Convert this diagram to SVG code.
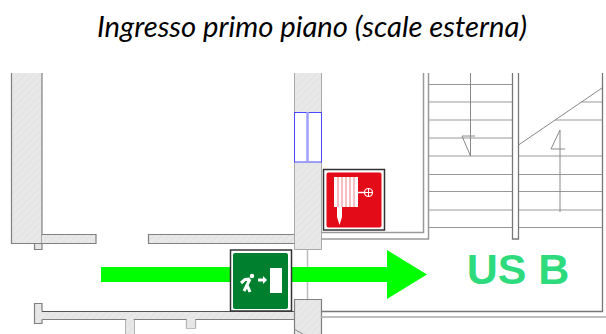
<svg xmlns="http://www.w3.org/2000/svg" width="606" height="334" viewBox="0 0 606 334">
<defs>
<pattern id="hatch" width="5" height="5" patternUnits="userSpaceOnUse" patternTransform="rotate(-45)">
<rect width="5" height="5" fill="#e8e8e8"/>
<rect width="5" height="1.500" fill="#e3e3e3"/>
</pattern>
</defs>
<style>
.title{font-family:Lato,"Liberation Sans",sans-serif;font-style:italic;font-size:28px;fill:#000}
.wall{fill:url(#hatch);stroke:none}
.edge{fill:none;stroke:#808080;stroke-width:1.200}
.line{fill:none;stroke:#777;stroke-width:1.300}
.tread{fill:none;stroke:#999;stroke-width:1.100}
.thin{fill:none;stroke:#888;stroke-width:1}
.win{fill:#fff;stroke:#4a4aff;stroke-width:1}
.w{fill:#fff}
</style>
<rect width="606" height="334" fill="#fff"/>
<text class="title" x="312" y="37" text-anchor="middle" textLength="430" lengthAdjust="spacingAndGlyphs">Ingresso primo piano (scale esterna)</text>
<g id="walls">
<rect class="wall" x="34.500" y="243.500" width="7.500" height="6"/>
<path class="edge" d="M34.500 243.500V249.500H42V243.500"/>
<rect class="wall" x="11.500" y="73" width="30.500" height="170.500"/>
<path class="edge" d="M11.500 73V243.500H42V73"/>
<rect class="wall" x="42" y="234.500" width="54" height="9"/>
<path class="edge" d="M42 234.500H96V243.500H42"/>
<rect class="wall" x="148.500" y="234.500" width="146" height="9"/>
<path class="edge" d="M294 234.500H148.500V243.500H294"/>
<rect class="wall" x="34.500" y="303.500" width="7.500" height="20"/>
<path class="edge" d="M42 311.500V303.500H34.500V323.500H42V319.500"/>
<rect class="wall" x="42" y="311.500" width="252" height="8"/>
<path d="M42 311.500H294" fill="none" stroke="#555" stroke-width="1"/>
<path class="edge" d="M42 319.500H126V334M134 334V319.500H186.500V328H195.500V319.500H294"/>
<rect class="wall" x="126" y="319.500" width="8" height="15"/>
<rect class="wall" x="186.500" y="319.500" width="9" height="8.500"/>
<line x1="307.500" y1="249" x2="307.500" y2="300" stroke="#bbb" stroke-width="1.500"/>
<rect class="wall" x="294.500" y="73" width="27" height="176.500"/>
<path d="M294.500 73V249.500H321.500V73" fill="none" stroke="#aaa" stroke-width="1"/>
<rect class="wall" x="294.500" y="299.500" width="27" height="36"/>
<path class="edge" d="M294.500 334V299.500H321.500V334" stroke="#aaa"/>
<path class="thin" d="M294 329L303 334"/>
<rect class="win" x="294.500" y="112.500" width="27" height="49.500"/>
<line x1="307.500" y1="112" x2="307.500" y2="162" stroke="#9da0ff" stroke-width="2.500"/>
</g>
<g id="stairs">
<path d="M321.500 232.500H423.500V73M321.500 239H428.500V73" fill="none" stroke="#999" stroke-width="1.500"/>
<path class="tread" d="M428 84.500H512M428 102H512M428 120H512M428 138H512M428 156H512M428 174.500H512M428 191.500H512M428 210H512M428 227.500H512"/>
<path class="tread" d="M518 156H602M518 174.500H602M518 191.500H602M518 210H602M518 227.500H602M581 102H602M555 120H602"/>
<path class="line" d="M512.500 73V239H518.500V73" stroke-width="1.500"/>
<path class="thin" d="M518.500 145L602 88"/>
<path class="line" d="M602.500 73V311.500H321.500"/>
<path d="M321 317H606" stroke="#aaa" stroke-width="1.500" fill="none"/>
<path class="thin" d="M470.500 73V156L462 136H475"/>
<path class="thin" d="M560 212V130L551 149H565"/>
</g>
<g id="route">
<rect x="101" y="267" width="287" height="15" fill="#00ff00"/>
<polygon points="387,250 427,274.500 387,299" fill="#00ff00"/>
</g>
<g id="exit-sign">
<rect x="230.500" y="250" width="61" height="61" fill="#fff" stroke="#333" stroke-width="1.500"/>
<rect x="233" y="253" width="55" height="56" rx="2" fill="#00802f"/>
<rect class="w" x="270" y="268" width="12" height="25"/>
<path class="w" d="M258 278.500H263V276L267 280L263 284V281.500H258Z"/>
<circle class="w" cx="252" cy="276" r="2.200"/>
<path d="M250 279L245 279.500L241 283M250 279L247 285L250 292M247 285L244 291" fill="none" stroke="#fff" stroke-width="3"/>
</g>
<g id="hose-sign">
<rect x="323.500" y="169.500" width="61" height="60.500" fill="#fff" stroke="#333" stroke-width="1.500"/>
<rect x="326.500" y="172.500" width="55" height="55" rx="2" fill="#e30b17"/>
<rect class="w" x="334" y="177" width="24" height="30"/>
<path d="M338 177V207M342 177V207M346 177V207M350 177V207M354 177V207" stroke="#f08088" stroke-width="1" fill="none"/>
<path class="w" d="M337 207H342V217L339.500 225L337 217Z"/>
<path d="M358 192.500H364" stroke="#fff" stroke-width="1.500"/>
<circle cx="368.500" cy="192.500" r="4" fill="none" stroke="#fff" stroke-width="1.200"/>
<path d="M364.500 192.500H372.500M368.500 188.500V196.500" stroke="#fff" stroke-width="1"/>
</g>
<g id="label">
<text x="518" y="284" text-anchor="middle" font-family="'Liberation Sans',Arial,sans-serif" font-weight="700" font-size="43" fill="#2edb7c">US B</text>
</g>
</svg>
